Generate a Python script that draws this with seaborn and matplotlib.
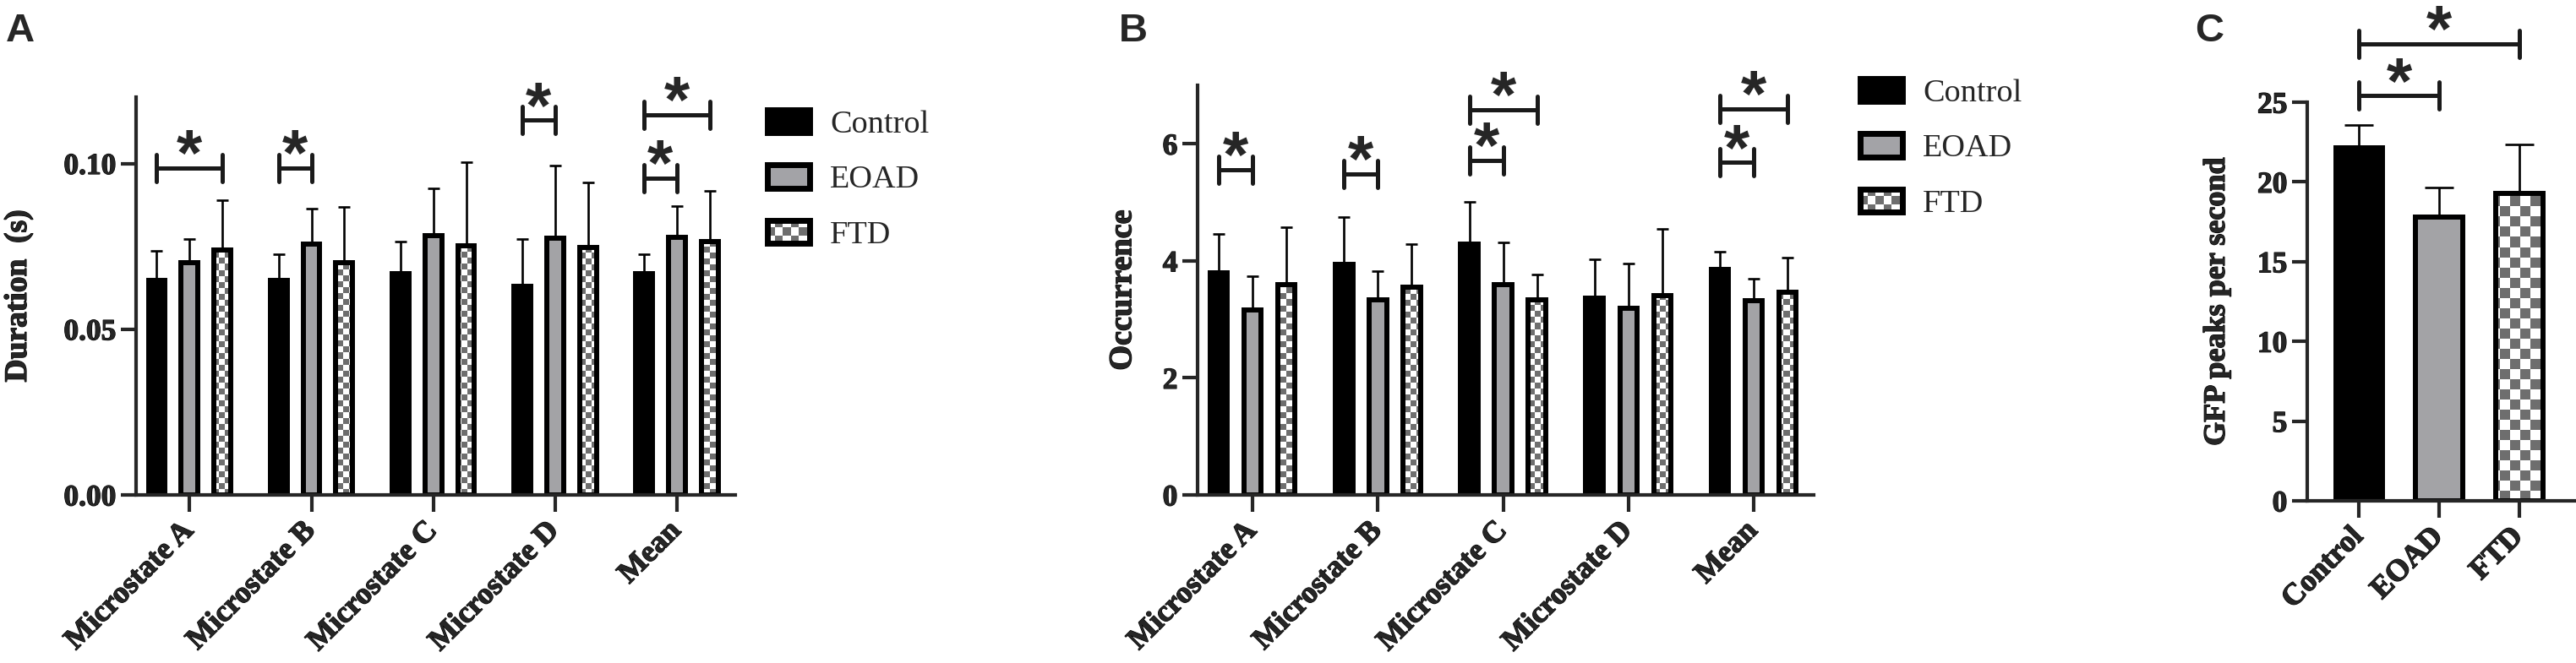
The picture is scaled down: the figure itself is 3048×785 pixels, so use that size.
import numpy as np
import pandas as pd
import matplotlib
matplotlib.use("Agg")
import matplotlib.pyplot as plt
import matplotlib.patheffects as pe
import seaborn as sns
from matplotlib.patches import Rectangle
from matplotlib.markers import MarkerStyle
from matplotlib.legend_handler import HandlerBase
from matplotlib.colors import ListedColormap

# ---------------- data ----------------
states = ["Microstate A", "Microstate B", "Microstate C", "Microstate D", "Mean"]
groups = ["Control", "EOAD", "FTD"]

# Panel A: duration (s)
dur_control = [0.0647, 0.0647, 0.0667, 0.0629, 0.0668]
dur_eoad = [0.0701, 0.0756, 0.0783, 0.0774, 0.0776]
dur_ftd = [0.0740, 0.0701, 0.0752, 0.0746, 0.0764]
dur_control_err = [0.0090, 0.0080, 0.0098, 0.0144, 0.0059]
dur_eoad_err = [0.0070, 0.0108, 0.0141, 0.0220, 0.0096]
dur_ftd_err = [0.0149, 0.0169, 0.0253, 0.0196, 0.0152]

# Panel B: occurrence
occ_control = [3.80, 3.94, 4.29, 3.36, 3.85]
occ_eoad = [3.16, 3.33, 3.60, 3.19, 3.32]
occ_ftd = [3.60, 3.55, 3.34, 3.40, 3.47]
occ_control_err = [0.66, 0.81, 0.72, 0.66, 0.31]
occ_eoad_err = [0.58, 0.49, 0.72, 0.77, 0.37]
occ_ftd_err = [0.98, 0.73, 0.42, 1.15, 0.58]

# Panel C: GFP peaks per second
gfp_mean = [22.15, 17.80, 19.30]
gfp_err = [1.40, 1.83, 3.05]

# significance brackets: (category index, group a, group b, height)
sig_dur = [(0, 0, 2, 0.0985), (1, 0, 1, 0.0985), (3, 0, 1, 0.1130),
           (4, 0, 1, 0.0955), (4, 0, 2, 0.1146)]
sig_occ = [(0, 0, 1, 5.56), (1, 0, 1, 5.49), (2, 0, 1, 5.71), (2, 0, 2, 6.58),
           (4, 0, 1, 5.68), (4, 0, 2, 6.60)]
sig_gfp = [(0, 1, 25.4), (0, 2, 28.65)]

# ---------------- style ----------------
BLACK = "#000000"
GRAY = "#A3A3A7"
CHECK = "#6E6E6E"
PAL = {"Control": BLACK, "EOAD": GRAY, "FTD": "white"}
SERIF = ["Liberation Serif", "DejaVu Serif"]
SANS = ["Liberation Sans", "DejaVu Sans"]
HEAVY = [pe.withStroke(linewidth=0.9, foreground="black")]

sns.set_theme(style="ticks")
plt.rcParams["font.family"] = SERIF
plt.rcParams["axes.linewidth"] = 3.0

W_PX, H_PX = 3048, 785
fig = plt.figure(figsize=(W_PX / 100, H_PX / 100), dpi=100)


def px_axes(left, right, top, bottom):
    return fig.add_axes([left / W_PX, 1 - bottom / H_PX,
                         (right - left) / W_PX, (bottom - top) / H_PX])


axA = px_axes(161, 870, 115, 586)
axB = px_axes(1417, 2146, 101, 586)
axC = px_axes(2730, 3046, 121, 593)


def add_checker(ax, patch, cell):
    bb = ax.get_position()
    W = bb.width * W_PX
    H = bb.height * H_PX
    nx = int(np.ceil(W / cell))
    ny = int(np.ceil(H / cell))
    arr = np.add.outer(np.arange(ny), np.arange(nx)) % 2
    im = ax.imshow(arr, cmap=ListedColormap(["white", CHECK]),
                   interpolation="nearest", aspect="auto", origin="lower",
                   extent=(0, nx * cell / W, 0, ny * cell / H),
                   transform=ax.transAxes, zorder=0.95)
    im.set_clip_path(patch)


def style_axes(ax, ylim, yticks, yfmt, ylabel, xlim, labx, ylab_size):
    sns.despine(ax=ax)
    ax.set_xlim(*xlim)
    ax.set_ylim(*ylim)
    ax.set_yticks(yticks)
    ax.set_yticklabels([yfmt.format(v) for v in yticks])
    ax.tick_params(axis="y", length=13, width=3.0, pad=4, labelsize=25.5)
    ax.tick_params(axis="x", length=14.5, width=3.0, pad=12.5, labelsize=26)
    for lab in ax.get_yticklabels() + ax.get_xticklabels():
        lab.set_fontweight("bold")
        lab.set_path_effects(HEAVY)
    for lab in ax.get_xticklabels():
        lab.set_rotation(45)
        lab.set_ha("right")
        lab.set_va("center")
        lab.set_rotation_mode("anchor")
    ax.set_xlabel("")
    ax.set_ylabel(ylabel, fontsize=ylab_size, fontweight="bold")
    ax.yaxis.label.set_path_effects(HEAVY)
    ax.yaxis.set_label_coords(labx, 0.5)


def bracket(ax, x1, x2, y):
    ms = MarkerStyle("|", capstyle="round")
    ax.plot([x1, x2], [y, y], color="k", lw=3.6, solid_capstyle="butt",
            marker=ms, ms=23, mew=3.6, clip_on=False, zorder=5)
    ax.annotate("*", xy=((x1 + x2) / 2, y), xytext=(0, -6.5),
                textcoords="offset points", ha="center", va="baseline",
                fontsize=56, fontweight="bold", family=SANS,
                annotation_clip=False, zorder=5)


def grouped_panel(ax, vals, errs, sigs, cell):
    df = pd.DataFrame({
        "state": [s for g in groups for s in states],
        "group": [g for g in groups for _ in states],
        "value": [v for g in groups for v in vals[g]],
    })
    sns.barplot(data=df, x="state", y="value", hue="group", order=states,
                hue_order=groups, palette=PAL, width=0.81, gap=0.49,
                errorbar=None, edgecolor="black", linewidth=4.3,
                legend=False, ax=ax)
    centers = {}
    for g, cont in zip(groups, ax.containers):
        xs = [p.get_x() + p.get_width() / 2 for p in cont.patches]
        centers[g] = xs
        ax.errorbar(xs, vals[g], yerr=[np.zeros(len(xs)), errs[g]], fmt="none",
                    ecolor="black", elinewidth=1.9, capsize=5, capthick=1.9,
                    zorder=0.9)
        if g == "FTD":
            for p in cont.patches:
                p.set_facecolor("none")
                add_checker(ax, p, cell)
    for (ci, ga, gb, y) in sigs:
        bracket(ax, centers[groups[ga]][ci], centers[groups[gb]][ci], y)


grouped_panel(axA,
              {"Control": dur_control, "EOAD": dur_eoad, "FTD": dur_ftd},
              {"Control": dur_control_err, "EOAD": dur_eoad_err, "FTD": dur_ftd_err},
              sig_dur, 7)
style_axes(axA, (0, 0.12), [0.0, 0.05, 0.10], "{:.2f}", "Duration  (s)",
           (-0.44, 4.48), -0.172, 27)

grouped_panel(axB,
              {"Control": occ_control, "EOAD": occ_eoad, "FTD": occ_ftd},
              {"Control": occ_control_err, "EOAD": occ_eoad_err, "FTD": occ_ftd_err},
              sig_occ, 7)
style_axes(axB, (0, 7), [0, 2, 4, 6], "{:d}", "Occurrence",
           (-0.44, 4.48), -0.097, 27.5)

# Panel C
sns.barplot(x=groups, y=gfp_mean, hue=groups, palette=PAL, width=0.59,
            errorbar=None, edgecolor="black", linewidth=4.3, legend=False, ax=axC)
c_centers = [p.get_x() + p.get_width() / 2 for p in axC.patches]
axC.errorbar(c_centers, gfp_mean, yerr=[np.zeros(3), gfp_err], fmt="none",
             ecolor="black", elinewidth=1.9, capsize=12, capthick=1.9, zorder=0.9)
ftd_patch = axC.patches[2]
ftd_patch.set_facecolor("none")
add_checker(axC, ftd_patch, 12)
for (ga, gb, y) in sig_gfp:
    bracket(axC, c_centers[ga], c_centers[gb], y)
style_axes(axC, (0, 25), [0, 5, 10, 15, 20, 25], "{:d}", "GFP peaks per second",
           (-0.65, 2.69), -0.285, 26)


# ---------------- legends ----------------
class BoxHandler(HandlerBase):
    def __init__(self, face, checker=False, cell=6.5):
        super().__init__()
        self.face = face
        self.checker = checker
        self.cell = cell

    def create_artists(self, legend, orig_handle, xdescent, ydescent,
                       width, height, fontsize, trans):
        x0, y0 = -xdescent, -ydescent
        arts = []
        if self.checker:
            arts.append(Rectangle((x0, y0), width, height, facecolor="white",
                                  edgecolor="none", transform=trans))
            nx = int(np.ceil(width / self.cell))
            ny = int(np.ceil(height / self.cell))
            for i in range(nx):
                for j in range(ny):
                    if (i + j) % 2 == 1:
                        cx = x0 + i * self.cell
                        cy = y0 + j * self.cell
                        w = min(self.cell, x0 + width - cx)
                        h = min(self.cell, y0 + height - cy)
                        arts.append(Rectangle((cx, cy), w, h, facecolor=CHECK,
                                              edgecolor="none", transform=trans))
            arts.append(Rectangle((x0, y0), width, height, facecolor="none",
                                  edgecolor="black", lw=5, transform=trans))
        else:
            arts.append(Rectangle((x0, y0), width, height, facecolor=self.face,
                                  edgecolor="black", lw=5, transform=trans))
        return arts


def add_legend(ax, left_px, top_px):
    handles = [Rectangle((0, 0), 1, 1) for _ in groups]
    hmap = {handles[0]: BoxHandler(BLACK),
            handles[1]: BoxHandler(GRAY),
            handles[2]: BoxHandler("white", checker=True, cell=6.8)}
    ax.legend(handles, groups, handler_map=hmap, loc="upper left",
              bbox_to_anchor=(left_px / W_PX, 1 - top_px / H_PX),
              bbox_transform=fig.transFigure, frameon=False, borderpad=0,
              borderaxespad=0, handlelength=1.335, handleheight=0.73,
              handletextpad=0.62, labelspacing=0.79,
              prop={"family": SERIF, "size": 27.5})


add_legend(axA, 907.5, 130)
add_legend(axB, 2200.5, 93)

# ---------------- panel letters ----------------
for x, lab in [(7, "A"), (1324, "B"), (2597, "C")]:
    fig.text(x / W_PX, 1 - 15 / H_PX, lab, ha="left", va="top", fontsize=34,
             fontweight="bold", family=SANS)

fig.savefig("out.png", dpi=100, facecolor="white")
